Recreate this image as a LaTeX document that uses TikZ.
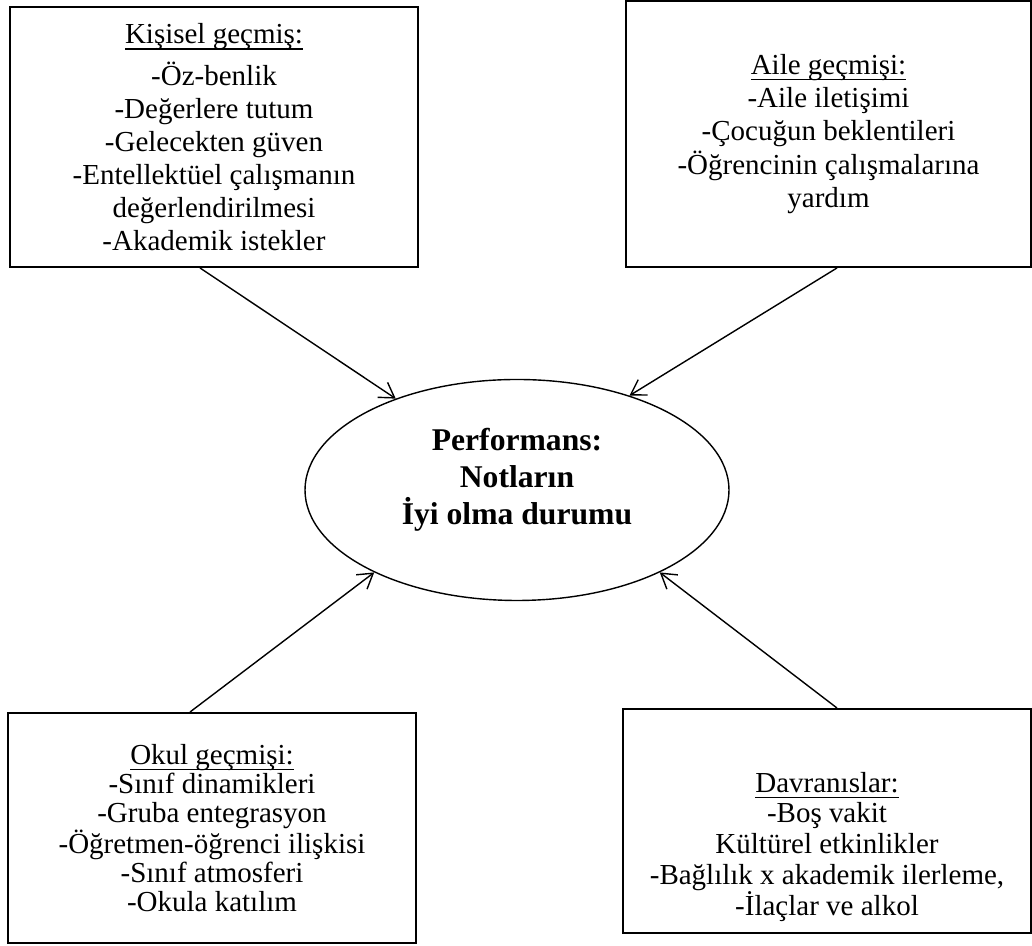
\documentclass[tikz,border=0pt]{standalone}
\usepackage{fontspec}
\setmainfont{Liberation Serif}
\newcommand{\ulbox}[1]{\setbox0\hbox{#1}\rlap{\smash{\rule[-3.5pt]{\wd0}{0.6pt}}}\box0}
\usetikzlibrary{shapes.geometric,arrows.meta}

\begin{document}
\begin{tikzpicture}[semithick]
  \tikzstyle{block} = [rectangle, draw, line width=1.1pt, align=center,
    minimum width=8.16cm, font=\fontsize{16.5}{18.8}\selectfont, inner sep=0pt]
  \tikzstyle{terminator} = [ellipse, draw, line width=0.8pt, align=center,
    minimum width=8.48cm, minimum height=4.42cm, inner sep=0pt,
    font=\fontsize{18}{21}\selectfont\bfseries]
  \tikzstyle{line} = [draw, line width=0.8pt, -{Straight Barb[length=0.29cm, width=0.36cm]}]

  \useasboundingbox (0,0) rectangle (20.64,18.92);

  % Place nodes
  \node [terminator, text depth=0.55cm] (perf) at (10.34,9.12)
        {Performans:\\Notların\\İyi olma durumu};

  \node [block, minimum height=5.2cm] (kisisel) at (4.28,16.18)
        {\ulbox{Kişisel geçmiş:}\\[5pt]-Öz-benlik\\-Değerlere tutum\\-Gelecekten güven\\
         -Entellektüel çalışmanın\\değerlendirilmesi\\-Akademik istekler};
  \node [block, minimum width=8.1cm, minimum height=5.32cm,
         font=\fontsize{16.5}{19}\selectfont] (aile) at (16.57,16.24)
        {\ulbox{Aile geçmişi:}\\-Aile iletişimi\\-Çocuğun beklentileri\\
         -Öğrencinin çalışmalarına\\yardım};
  \node [block, minimum height=4.6cm, font=\fontsize{16.5}{16.5}\selectfont] (okul) at (4.24,2.36)
        {\ulbox{Okul geçmişi:}\\-Sınıf dinamikleri\\-Gruba entegrasyon\\
         -Öğretmen-öğrenci ilişkisi\\-Sınıf atmosferi\\-Okula katılım};
  \node [block, minimum height=4.48cm, font=\fontsize{16.5}{17.5}\selectfont] (davranis) at (16.54,2.50)
        {\rule{0pt}{1.43cm}\ulbox{Davranıslar:}\\-Boş vakit\\Kültürel etkinlikler\\
         -Bağlılık x akademik ilerleme,\\-İlaçlar ve alkol};

  % Draw edges
  \path [line] ([xshift=-0.28cm]kisisel.south) -- (perf.143);
  \path [line] ([xshift=0.17cm]aile.south) -- (perf.40);
  \path [line] ([xshift=-0.44cm]okul.north) -- (perf.210);
  \path [line] ([xshift=0.2cm]davranis.north) -- (perf.330);

\end{tikzpicture}
\end{document}
